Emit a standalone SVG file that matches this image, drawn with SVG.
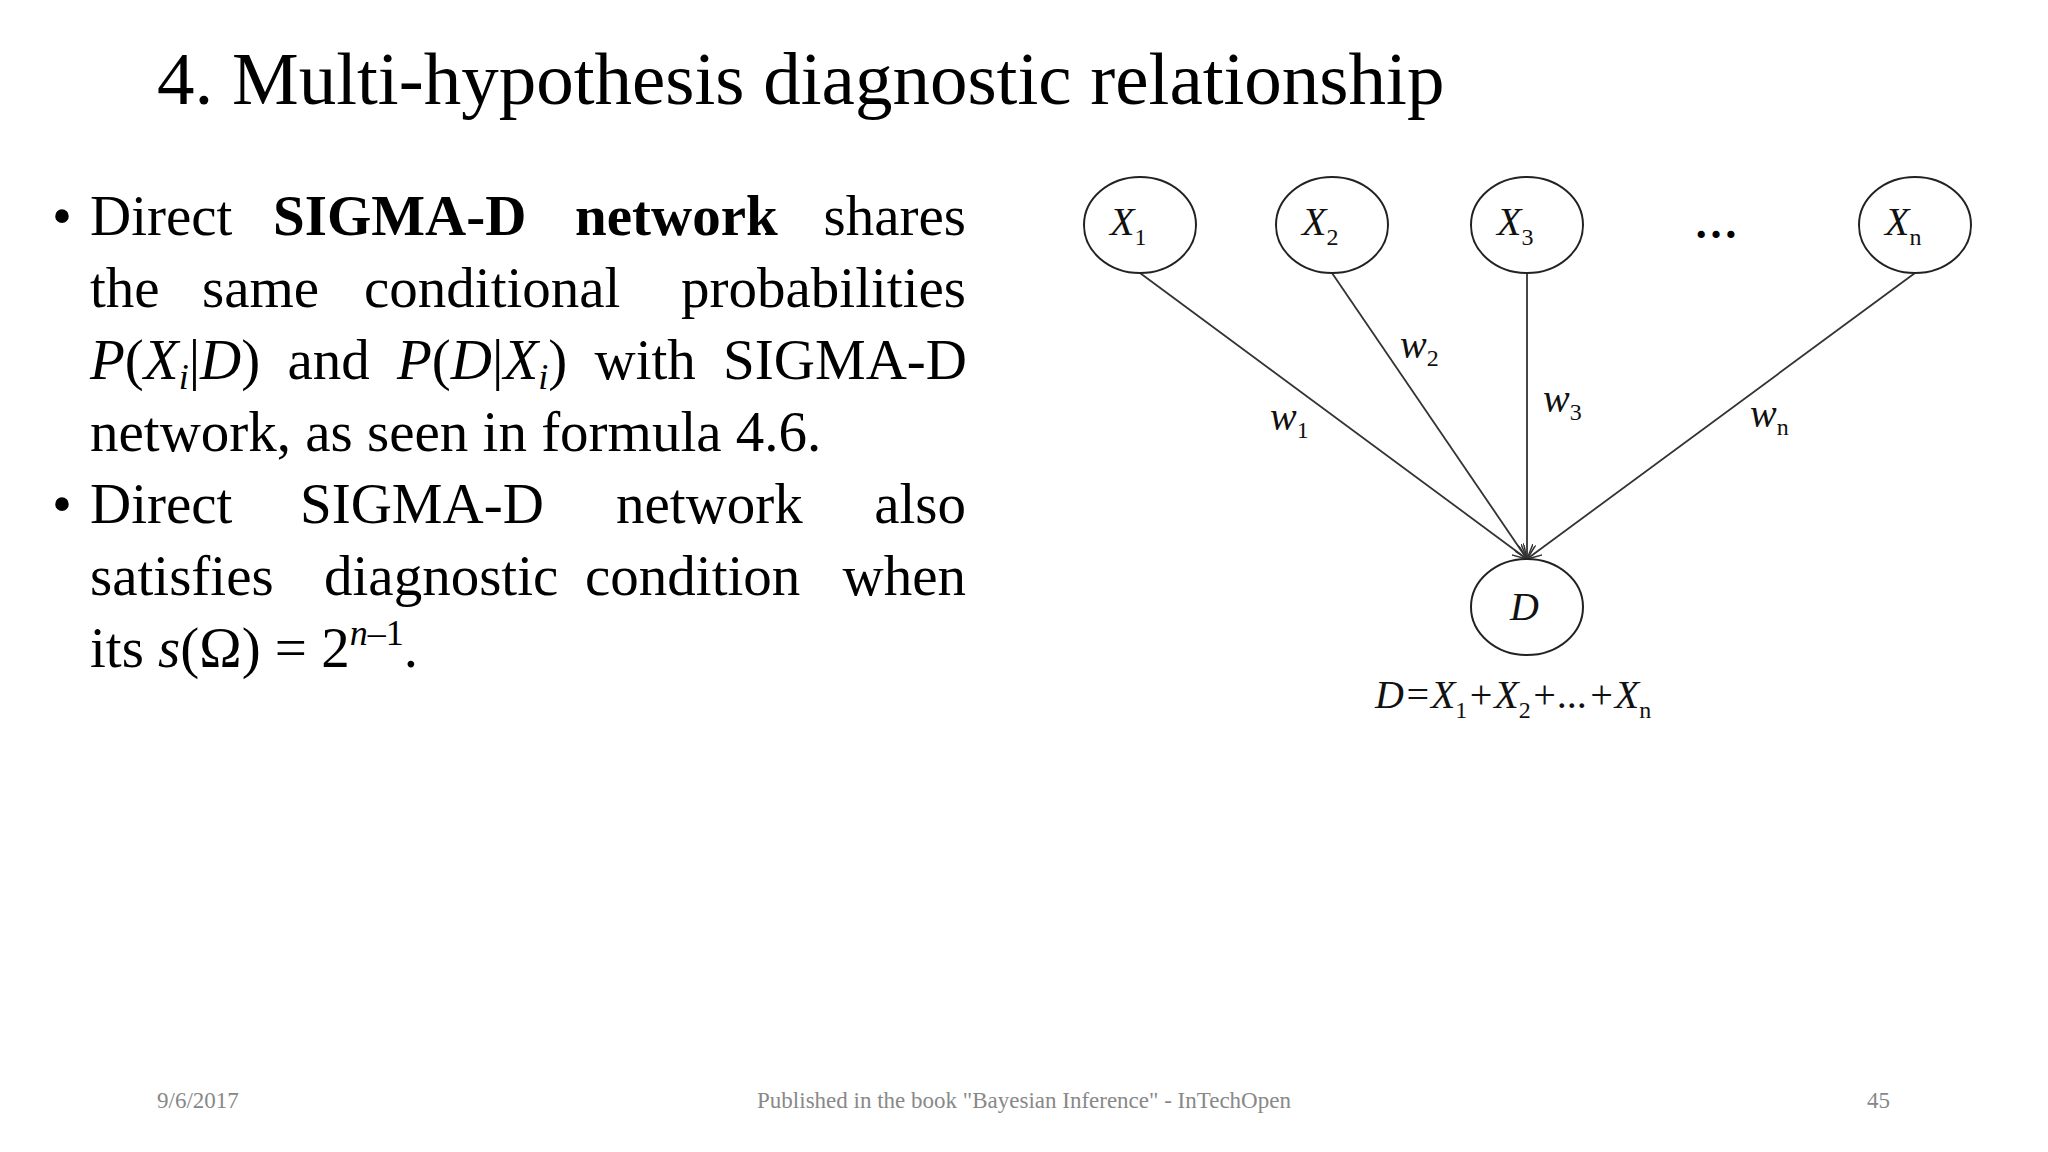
<svg xmlns="http://www.w3.org/2000/svg" width="2048" height="1152" viewBox="0 0 2048 1152">
<style>
.t{font-family:"Liberation Serif",serif;fill:#000}
.b{font-size:57px}
.n{fill:#fff;stroke:#222;stroke-width:2}
.l{font-family:"Liberation Serif",serif;font-style:italic;font-size:40px;fill:#111}
.s{font-size:24px;font-style:normal}
.e{stroke:#333;stroke-width:1.8;fill:none;marker-end:url(#a)}
.f{font-family:"Liberation Serif",serif;font-size:23px;fill:#888}
</style>
<defs><marker id="a" markerWidth="16" markerHeight="12" refX="15" refY="6" orient="auto" markerUnits="userSpaceOnUse"><path d="M0,0 L15,6 L0,12" fill="none" stroke="#333" stroke-width="1.5"/></marker></defs>
<rect width="2048" height="1152" fill="#fff"/>
<text class="t" x="157" y="104" font-size="75">4. Multi-hypothesis diagnostic relationship</text>
<g class="t b">
<text x="52" y="235">•</text>
<text x="90" y="235">Direct</text><text x="273" y="235" font-weight="bold">SIGMA-D</text><text x="575" y="235" font-weight="bold">network</text><text x="966" y="235" text-anchor="end">shares</text>
<text x="90" y="307">the</text><text x="202" y="307">same</text><text x="364" y="307">conditional</text><text x="966" y="307" text-anchor="end">probabilities</text>
<text x="90" y="379" word-spacing="13"><tspan font-style="italic">P</tspan>(<tspan font-style="italic">X</tspan><tspan font-style="italic" font-size="36" dy="10">i</tspan><tspan dy="-10">|</tspan><tspan font-style="italic">D</tspan>) and <tspan font-style="italic">P</tspan>(<tspan font-style="italic">D</tspan>|<tspan font-style="italic">X</tspan><tspan font-style="italic" font-size="36" dy="10">i</tspan><tspan dy="-10">) with SIGMA-D</tspan></text>
<text x="90" y="451">network, as seen in formula 4.6.</text>
<text x="52" y="523">•</text>
<text x="90" y="523">Direct</text><text x="300" y="523">SIGMA-D</text><text x="616" y="523">network</text><text x="966" y="523" text-anchor="end">also</text>
<text x="90" y="595">satisfies</text><text x="324" y="595">diagnostic</text><text x="585" y="595">condition</text><text x="966" y="595" text-anchor="end">when</text>
<text x="90" y="667">its <tspan font-style="italic">s</tspan>(Ω) = 2<tspan font-size="36" dy="-22"><tspan font-style="italic">n</tspan>–1</tspan><tspan dy="22">.</tspan></text>
</g>
<g id="edges">
<line class="e" x1="1140" y1="273" x2="1527" y2="559"/>
<line class="e" x1="1332" y1="273" x2="1527" y2="559"/>
<line class="e" x1="1527" y1="273" x2="1527" y2="559"/>
<line class="e" x1="1915" y1="273" x2="1527" y2="559"/>
<text class="l" x="1270" y="430">w<tspan class="s" dy="8">1</tspan></text>
<text class="l" x="1400" y="358">w<tspan class="s" dy="8">2</tspan></text>
<text class="l" x="1543" y="412">w<tspan class="s" dy="8">3</tspan></text>
<text class="l" x="1750" y="427">w<tspan class="s" dy="8">n</tspan></text>
</g>
<g id="X1"><ellipse class="n" cx="1140" cy="225" rx="56" ry="48"/><text class="l" x="1110" y="235">X<tspan class="s" dy="10">1</tspan></text></g>
<g id="X2"><ellipse class="n" cx="1332" cy="225" rx="56" ry="48"/><text class="l" x="1302" y="235">X<tspan class="s" dy="10">2</tspan></text></g>
<g id="X3"><ellipse class="n" cx="1527" cy="225" rx="56" ry="48"/><text class="l" x="1497" y="235">X<tspan class="s" dy="10">3</tspan></text></g>
<g id="dots"><text class="t" x="1694" y="238" font-size="44" font-weight="bold">…</text></g>
<g id="Xn"><ellipse class="n" cx="1915" cy="225" rx="56" ry="48"/><text class="l" x="1885" y="235">X<tspan class="s" dy="10">n</tspan></text></g>
<g id="D"><ellipse class="n" cx="1527" cy="607" rx="56" ry="48"/><text class="l" x="1510" y="620">D</text></g>
<text class="l" x="1375" y="708" font-size="43">D=X<tspan class="s" dy="10">1</tspan><tspan dy="-10">+X</tspan><tspan class="s" dy="10">2</tspan><tspan dy="-10">+...+X</tspan><tspan class="s" dy="10">n</tspan></text>
<text class="f" x="157" y="1108">9/6/2017</text>
<text class="f" x="1024" y="1108" text-anchor="middle">Published in the book "Bayesian Inference" - InTechOpen</text>
<text class="f" x="1890" y="1108" text-anchor="end">45</text>
</svg>
